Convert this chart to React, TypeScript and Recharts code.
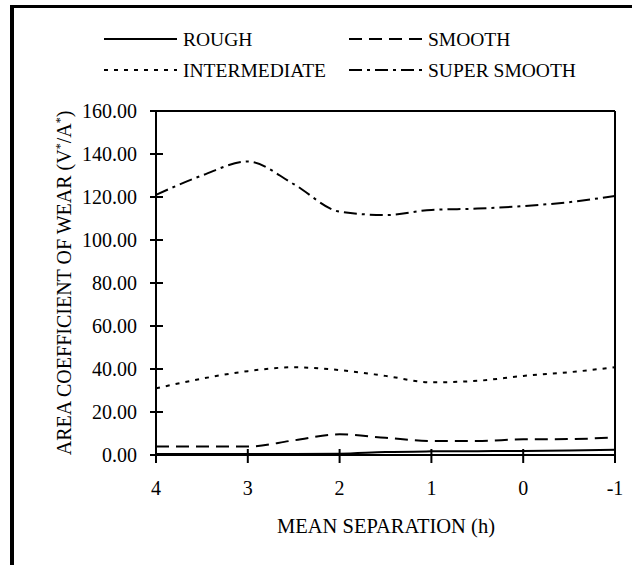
import { LineChart, Line, XAxis, YAxis, ReferenceLine, Legend } from "recharts";

const separation = [4, 3.5, 3, 2.5, 2, 1.5, 1, 0.5, 0, -0.5, -1];
const rough = [0.5, 0.5, 0.5, 0.5, 0.6, 1.4, 1.7, 1.8, 1.9, 2.1, 2.4];
const smooth = [3.9, 3.9, 3.9, 6.8, 9.6, 8.0, 6.5, 6.5, 7.3, 7.4, 8.2];
const intermediate = [31, 35.5, 39, 40.8, 39.5, 36.8, 33.8, 34.5, 36.8, 38.5, 40.8];
const superSmooth = [121, 130, 136.5, 126, 113.2, 111.6, 114, 114.6, 115.8, 117.6, 120.5];

const xTicks = [4, 3, 2, 1, 0, -1];
const yTicks = [0, 20, 40, 60, 80, 100, 120, 140, 160];

const series = [
  { key: "rough", name: "ROUGH", dash: undefined as string | undefined, col: 0, row: 0 },
  { key: "smooth", name: "SMOOTH", dash: "13 7", col: 1, row: 0 },
  { key: "intermediate", name: "INTERMEDIATE", dash: "4 6", col: 0, row: 1 },
  { key: "superSmooth", name: "SUPER SMOOTH", dash: "13 5 3 5", col: 1, row: 1 },
];

const data = separation.map((h, i) => ({
  h,
  rough: rough[i],
  smooth: smooth[i],
  intermediate: intermediate[i],
  superSmooth: superSmooth[i],
}));

const W = 632;
const H = 565;
const PLOT_LEFT = 156;
const PLOT_BOTTOM = 455;
const txt = (size: number) => ({ fontFamily: "Liberation Serif", fontSize: size, fill: "#000" });

const YTick = (props: any) => {
  const { y, payload } = props;
  return (
    <g>
      <line x1={PLOT_LEFT - 6} x2={PLOT_LEFT + 7} y1={y} y2={y} stroke="#000" strokeWidth={2} />
      <text x={PLOT_LEFT - 19} y={y} dy="0.35em" textAnchor="end" style={txt(20)}>
        {Number(payload.value).toFixed(2)}
      </text>
    </g>
  );
};

const XTick = (props: any) => {
  const { x, payload } = props;
  return (
    <g>
      <line x1={x} x2={x} y1={PLOT_BOTTOM - 6} y2={PLOT_BOTTOM + 8} stroke="#000" strokeWidth={2} />
      <text x={x} y={PLOT_BOTTOM + 33} dy="0.35em" textAnchor="middle" style={txt(20)}>
        {payload.value}
      </text>
    </g>
  );
};

const LegendBox = () => (
  <svg width={W} height={100}>
    {series.map((s) => {
      const x0 = s.col === 0 ? 104 : 349;
      const y = s.row === 0 ? 39 : 70;
      return (
        <g key={s.key}>
          <line x1={x0} x2={x0 + 73} y1={y} y2={y} stroke="#000" strokeWidth={2} strokeDasharray={s.dash} />
          <text x={x0 + 79} y={y} dy="0.35em" style={txt(19.5)}>
            {s.name}
          </text>
        </g>
      );
    })}
  </svg>
);

export default function App() {
  return (
    <div style={{ position: "absolute", left: 0, top: 0, width: W, height: H, background: "#fff" }}>
      <div
        style={{
          position: "absolute",
          left: 10,
          top: 5,
          width: W - 10,
          height: H - 5,
          borderLeft: "4px solid #000",
          borderTop: "3px solid #000",
          boxSizing: "border-box",
        }}
      />
      <LineChart width={W} height={H} data={data} margin={{ top: 111, right: 17, left: 0, bottom: 0 }}>
        <XAxis
          type="number"
          dataKey="h"
          domain={[-1, 4]}
          reversed
          ticks={xTicks}
          height={110}
          axisLine={{ stroke: "#000", strokeWidth: 2 }}
          tickLine={false}
          tick={<XTick />}
          label={{
            content: () => (
              <text x={386} y={533} textAnchor="middle" style={txt(20.5)}>
                MEAN SEPARATION (h)
              </text>
            ),
          }}
        />
        <YAxis
          type="number"
          domain={[0, 160]}
          ticks={yTicks}
          width={PLOT_LEFT}
          axisLine={{ stroke: "#000", strokeWidth: 2 }}
          tickLine={false}
          tick={<YTick />}
          label={{
            content: () => (
              <text transform="rotate(-90)" x={-283} y={71} textAnchor="middle" style={txt(20)}>
                AREA COEFFICIENT OF WEAR (V
                <tspan dy={-7} fontSize={12}>*</tspan>
                <tspan dy={7}>/A</tspan>
                <tspan dy={-7} fontSize={12}>*</tspan>
                <tspan dy={7}>)</tspan>
              </text>
            ),
          }}
        />
        <ReferenceLine y={160} stroke="#000" strokeWidth={2} />
        <ReferenceLine x={-1} stroke="#000" strokeWidth={2} />
        <Legend
          layout="horizontal"
          verticalAlign="middle"
          align="center"
          content={<LegendBox />}
          wrapperStyle={{ position: "absolute", left: 0, top: 0, width: W, height: 100 }}
        />
        {series.map((s) => (
          <Line
            key={s.key}
            type="monotone"
            dataKey={s.key}
            name={s.name}
            stroke="#000"
            strokeWidth={2}
            strokeDasharray={s.dash}
            dot={false}
            activeDot={false}
            isAnimationActive={false}
          />
        ))}
      </LineChart>
    </div>
  );
}
